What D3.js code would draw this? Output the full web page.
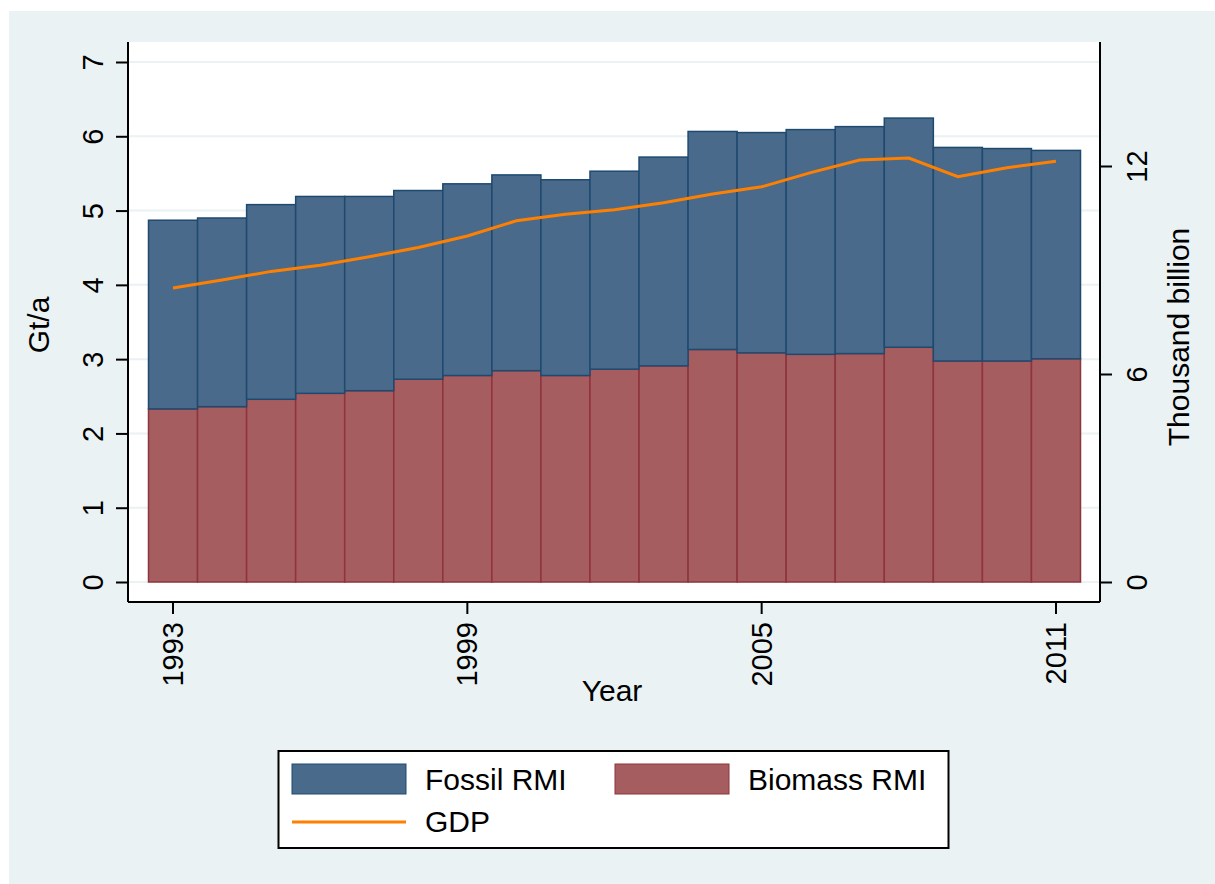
<!DOCTYPE html>
<html>
<head>
<meta charset="utf-8">
<script src="https://cdn.jsdelivr.net/npm/d3@7"></script>
<style>
  body { margin: 0; background: #fff; }
  svg text { font-family: "Liberation Sans", Arial, sans-serif; fill: #000; }
</style>
</head>
<body>
<div id="chart"></div>
<script>
// values
const years = [1993, 1994, 1995, 1996, 1997, 1998, 1999, 2000, 2001, 2002,
               2003, 2004, 2005, 2006, 2007, 2008, 2009, 2010, 2011];
const biomassRMI = [2.33, 2.36, 2.46, 2.54, 2.575, 2.73, 2.78, 2.845, 2.78, 2.865,
                    2.91, 3.13, 3.085, 3.065, 3.075, 3.16, 2.975, 2.975, 3.005];
const fossilRMI = [2.54, 2.54, 2.62, 2.65, 2.615, 2.54, 2.58, 2.635, 2.635, 2.665,
                   2.81, 2.935, 2.965, 3.025, 3.055, 3.085, 2.875, 2.86, 2.805];
const gdp = [8.48, 8.71, 8.96, 9.14, 9.38, 9.65, 9.98, 10.42, 10.61, 10.74,
             10.94, 11.19, 11.40, 11.81, 12.17, 12.23, 11.69, 11.95, 12.14];
const leftTicks = [0, 1, 2, 3, 4, 5, 6, 7];
const rightTicks = [0, 6, 12];
const yearTicks = [1993, 1999, 2005, 2011];

const W = 1215, H = 884;
const plot = { left: 128, right: 1100, top: 42, bottom: 602 };

const svg = d3.select('#chart').append('svg')
  .attr('width', W)
  .attr('height', H);

// graph region + plot region
svg.append('rect').attr('x', 9).attr('y', 11).attr('width', W - 9).attr('height', H - 11)
  .attr('fill', '#eaf2f3');
svg.append('rect').attr('x', plot.left).attr('y', plot.top)
  .attr('width', plot.right - plot.left).attr('height', plot.bottom - plot.top)
  .attr('fill', '#fff');

const x = d3.scaleBand().domain(years).range([148.5, 1080.5]).padding(0);
const yL = d3.scaleLinear().domain([0, 7]).range([582, 62]);
const yR = d3.scaleLinear().domain([0, 15]).range([582, 62]);

// grid lines
svg.append('g').selectAll('line')
  .data(leftTicks)
  .enter().append('line')
  .attr('x1', plot.left).attr('x2', plot.right)
  .attr('y1', d => yL(d)).attr('y2', d => yL(d))
  .attr('stroke', '#eaf2f3').attr('stroke-width', 2);

// stacked bars: fossil on top of biomass
const rows = years.map((yr, i) => ({ year: yr, biomass: biomassRMI[i], fossil: fossilRMI[i] }));
const stack = d3.stack().keys(['biomass', 'fossil'])(rows);
const fills = { fossil: '#496a8a', biomass: '#a65d60' };
const strokes = { fossil: '#1f4a70', biomass: '#8e343c' };

stack.forEach(layer => {
  svg.append('g').selectAll('rect')
    .data(layer)
    .enter().append('rect')
    .attr('x', d => x(d.data.year))
    .attr('width', x.bandwidth())
    .attr('y', d => yL(d[1]))
    .attr('height', d => yL(d[0]) - yL(d[1]))
    .attr('fill', fills[layer.key])
    .attr('stroke', strokes[layer.key])
    .attr('stroke-width', 1.5);
});

// GDP line on right axis
const line = d3.line()
  .x((d, i) => x(years[i]) + x.bandwidth() / 2)
  .y(d => yR(d));

svg.append('path')
  .datum(gdp)
  .attr('d', line)
  .attr('fill', 'none')
  .attr('stroke', '#ff8000')
  .attr('stroke-width', 3);

// axes
const axisStyle = g => {
  g.select('.domain').attr('stroke', '#000').attr('stroke-width', 2);
  g.selectAll('.tick line').attr('stroke', '#000').attr('stroke-width', 2);
};

const left = svg.append('g')
  .attr('transform', `translate(${plot.left},0)`)
  .call(d3.axisLeft(yL).tickValues(leftTicks).tickSize(12).tickSizeOuter(0).tickFormat(d3.format('d')))
  .call(axisStyle);
left.select('.domain').attr('d', `M0,${plot.top}V${plot.bottom}`);
left.selectAll('.tick text')
  .attr('x', 0).attr('dy', null)
  .attr('transform', 'translate(-25,0) rotate(-90)')
  .attr('text-anchor', 'middle')
  .attr('font-size', 29)
  .attr('fill', '#000');

const right = svg.append('g')
  .attr('transform', `translate(${plot.right},0)`)
  .call(d3.axisRight(yR).tickValues(rightTicks).tickSize(12).tickSizeOuter(0).tickFormat(d3.format('d')))
  .call(axisStyle);
right.select('.domain').attr('d', `M0,${plot.top}V${plot.bottom}`);
right.selectAll('.tick text')
  .attr('x', 0).attr('dy', null)
  .attr('transform', 'translate(47,0) rotate(-90)')
  .attr('text-anchor', 'middle')
  .attr('font-size', 29)
  .attr('fill', '#000');

const bottom = svg.append('g')
  .attr('transform', `translate(0,${plot.bottom})`)
  .call(d3.axisBottom(x).tickValues(yearTicks).tickSize(12).tickSizeOuter(0))
  .call(axisStyle);
bottom.select('.domain').attr('d', `M${plot.left},0H${plot.right}`);
bottom.selectAll('.tick text')
  .attr('x', 0).attr('y', 0).attr('dy', null)
  .attr('transform', 'translate(10,20) rotate(-90)')
  .attr('text-anchor', 'end')
  .attr('font-size', 29)
  .attr('fill', '#000');

// axis titles
svg.append('text')
  .attr('transform', 'translate(49,325) rotate(-90)')
  .attr('text-anchor', 'middle')
  .attr('font-size', 30)
  .text('Gt/a');

svg.append('text')
  .attr('transform', 'translate(1189,337) rotate(-90)')
  .attr('text-anchor', 'middle')
  .attr('font-size', 30)
  .text('Thousand billion');

svg.append('text')
  .attr('x', 612).attr('y', 701)
  .attr('text-anchor', 'middle')
  .attr('font-size', 30)
  .text('Year');

// legend
const legend = svg.append('g');
legend.append('rect')
  .attr('x', 278.5).attr('y', 751).attr('width', 670).attr('height', 97)
  .attr('fill', '#fff').attr('stroke', '#000').attr('stroke-width', 2);

const legendItems = [
  { label: 'Fossil RMI', key: 'fossil', x: 292, y: 764 },
  { label: 'Biomass RMI', key: 'biomass', x: 615, y: 764 }
];
legendItems.forEach(it => {
  legend.append('rect')
    .attr('x', it.x).attr('y', it.y).attr('width', 114).attr('height', 30)
    .attr('fill', fills[it.key]).attr('stroke', strokes[it.key]).attr('stroke-width', 1);
  legend.append('text')
    .attr('x', it.x + 133).attr('y', 790)
    .attr('font-size', 30)
    .text(it.label);
});
legend.append('line')
  .attr('x1', 292).attr('x2', 406).attr('y1', 822).attr('y2', 822)
  .attr('stroke', '#ff8000').attr('stroke-width', 3);
legend.append('text')
  .attr('x', 425).attr('y', 832)
  .attr('font-size', 30)
  .text('GDP');
</script>
</body>
</html>
